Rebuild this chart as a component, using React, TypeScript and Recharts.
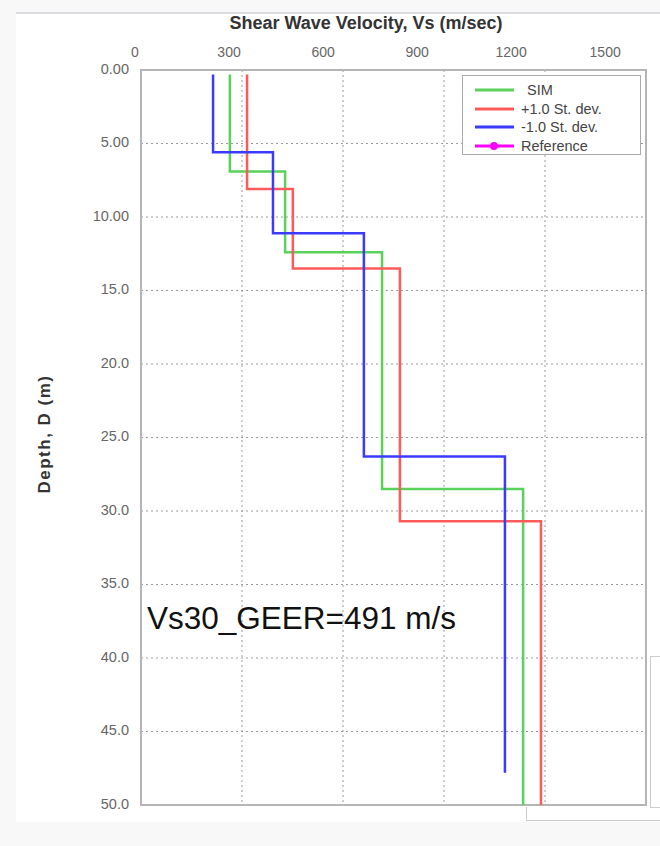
import React from "react";
import {
  ScatterChart,
  Scatter,
  XAxis,
  YAxis,
  CartesianGrid,
  ReferenceArea,
  Legend,
  Label,
} from "recharts";

// layer tops (m) and Vs (m/s) for each profile
const SIM_TOPS = [0.3, 6.9, 12.4, 28.5];
const SIM_VS = [264, 428, 716, 1135];
const SIM_BOTTOM = 50;

const PLUS_TOPS = [0.3, 8.1, 13.5, 30.7];
const PLUS_VS = [315, 451, 769, 1188];
const PLUS_BOTTOM = 50;

const MINUS_TOPS = [0.3, 5.6, 11.1, 26.3];
const MINUS_VS = [214, 392, 662, 1081];
const MINUS_BOTTOM = 47.8;

const VS_TICKS = [0, 300, 600, 900, 1200, 1500];
const DEPTH_TICKS = [0, 5, 10, 15, 20, 25, 30, 35, 40, 45, 50];

const SERIES_NAMES = ["SIM", "+1.0 St. dev.", "-1.0 St. dev.", "Reference"];
const SERIES_COLORS = ["#5ad15a", "#ff5a5a", "#3b3bff", "#ff00ff"];

function stepProfile(tops: number[], vs: number[], bottom: number) {
  const pts: { vs: number; depth: number }[] = [];
  tops.forEach((t, i) => {
    const next = i < tops.length - 1 ? tops[i + 1] : bottom;
    pts.push({ vs: vs[i], depth: t });
    pts.push({ vs: vs[i], depth: next });
  });
  return pts;
}

const simData = stepProfile(SIM_TOPS, SIM_VS, SIM_BOTTOM);
const plusData = stepProfile(PLUS_TOPS, PLUS_VS, PLUS_BOTTOM);
const minusData = stepProfile(MINUS_TOPS, MINUS_VS, MINUS_BOTTOM);
const referenceData: { vs: number; depth: number }[] = [];

const FONT = "'Liberation Sans', Arial, sans-serif";

// top tick labels in the original sit a little left of their gridlines
const VsTick = ({ x, payload }: any) => (
  <text
    x={x - 6 - (x - 141) * 0.069}
    y={53}
    textAnchor="middle"
    dominantBaseline="middle"
    fill="#666"
    fontSize={14}
    fontFamily={FONT}
  >
    {payload.value}
  </text>
);

const DepthTick = ({ x, y, payload }: any) => (
  <text
    x={x - 4}
    y={y}
    textAnchor="end"
    dominantBaseline="middle"
    fill="#666"
    fontSize={14.5}
    fontFamily={FONT}
  >
    {payload.value <= 10 ? payload.value.toFixed(2) : payload.value.toFixed(1)}
  </text>
);

const LegendBox = () => (
  <div
    style={{
      width: 179,
      height: 80,
      border: "1px solid #aaa",
      background: "#fff",
      fontFamily: FONT,
      fontSize: 14.5,
      color: "#444",
      padding: "5px 0 0 0",
      boxSizing: "border-box",
    }}
  >
    {SERIES_NAMES.map((name, i) => (
      <div key={name} style={{ display: "flex", alignItems: "center", height: 18.5 }}>
        <svg width={58} height={12} style={{ flex: "none" }}>
          <line x1={12} x2={51} y1={6} y2={6} stroke={SERIES_COLORS[i]} strokeWidth={3} />
          {name === "Reference" && <circle cx={31} cy={6} r={4} fill={SERIES_COLORS[i]} />}
        </svg>
        <span style={{ marginLeft: i === 0 ? 6 : 0 }}>{name}</span>
      </div>
    ))}
  </div>
);

const hidePoint = () => <g />;

export default function App() {
  return (
    <div
      style={{
        position: "absolute",
        left: 0,
        top: 0,
        width: 660,
        height: 846,
        background: "#f8f8f8",
        overflow: "hidden",
      }}
    >
      <div
        style={{
          position: "absolute",
          left: 16,
          top: 12,
          width: 644,
          height: 808,
          background: "#fff",
          borderTop: "2px solid #dcdce0",
        }}
      />
      <div style={{ position: "absolute", left: 0, top: 0 }}>
        <ScatterChart width={660} height={846} margin={{ top: 0, right: 14, bottom: 41, left: 0 }}>
          <CartesianGrid stroke="#9a9a9a" strokeDasharray="2 3" />
          <ReferenceArea
            x1={0}
            x2={1500}
            y1={0}
            y2={50}
            fill="none"
            stroke="#b5b5b5"
            strokeWidth={2}
          />
          <XAxis
            type="number"
            dataKey="vs"
            orientation="top"
            domain={[0, 1500]}
            ticks={VS_TICKS}
            height={70}
            axisLine={false}
            tickLine={false}
            tick={<VsTick />}
            interval={0}
          >
            <Label
              content={() => (
                <text
                  x={366}
                  y={24}
                  textAnchor="middle"
                  dominantBaseline="middle"
                  fontSize={18}
                  fontWeight="bold"
                  fill="#333"
                  fontFamily={FONT}
                >
                  Shear Wave Velocity, Vs (m/sec)
                </text>
              )}
            />
          </XAxis>
          <YAxis
            type="number"
            dataKey="depth"
            reversed
            domain={[0, 50]}
            ticks={DEPTH_TICKS}
            width={141}
            axisLine={false}
            tickLine={false}
            tick={<DepthTick />}
            interval={0}
          >
            <Label
              content={() => (
                <text
                  x={46}
                  y={434}
                  textAnchor="middle"
                  dominantBaseline="middle"
                  transform="rotate(-90 46 434)"
                  fontSize={17}
                  fontWeight="bold"
                  letterSpacing={1.5}
                  fill="#333"
                  fontFamily={FONT}
                >
                  Depth, D (m)
                </text>
              )}
            />
          </YAxis>
          <Scatter
            name={SERIES_NAMES[0]}
            data={simData}
            fill={SERIES_COLORS[0]}
            line={{ stroke: SERIES_COLORS[0], strokeWidth: 2.5 }}
            lineType="joint"
            shape={hidePoint}
            isAnimationActive={false}
          />
          <Scatter
            name={SERIES_NAMES[1]}
            data={plusData}
            fill={SERIES_COLORS[1]}
            line={{ stroke: SERIES_COLORS[1], strokeWidth: 2.5 }}
            lineType="joint"
            shape={hidePoint}
            isAnimationActive={false}
          />
          <Scatter
            name={SERIES_NAMES[2]}
            data={minusData}
            fill={SERIES_COLORS[2]}
            line={{ stroke: SERIES_COLORS[2], strokeWidth: 2.5 }}
            lineType="joint"
            shape={hidePoint}
            isAnimationActive={false}
          />
          <Scatter
            name={SERIES_NAMES[3]}
            data={referenceData}
            fill={SERIES_COLORS[3]}
            line={{ stroke: SERIES_COLORS[3], strokeWidth: 2.5 }}
            isAnimationActive={false}
          />
          <Legend
            layout="vertical"
            align="center"
            verticalAlign="middle"
            content={<LegendBox />}
            wrapperStyle={{ left: 462, top: 75, width: 181, height: 82 }}
          />
        </ScatterChart>
      </div>
      <div
        style={{
          position: "absolute",
          left: 147,
          top: 598,
          fontFamily: FONT,
          fontSize: 31.5,
          color: "#111",
          whiteSpace: "nowrap",
          lineHeight: "40px",
        }}
      >
        Vs30_GEER=491 m/s
      </div>
      {/* scrollbar / side panel remnants of the screenshot */}
      <div
        style={{
          position: "absolute",
          left: 526,
          top: 807,
          width: 134,
          height: 13,
          border: "1px solid #ccc",
          borderTop: "none",
          background: "#fff",
        }}
      />
      <div
        style={{
          position: "absolute",
          left: 650,
          top: 656,
          width: 10,
          height: 150,
          border: "1px solid #ccc",
          borderRight: "none",
          background: "#fff",
        }}
      />
    </div>
  );
}
